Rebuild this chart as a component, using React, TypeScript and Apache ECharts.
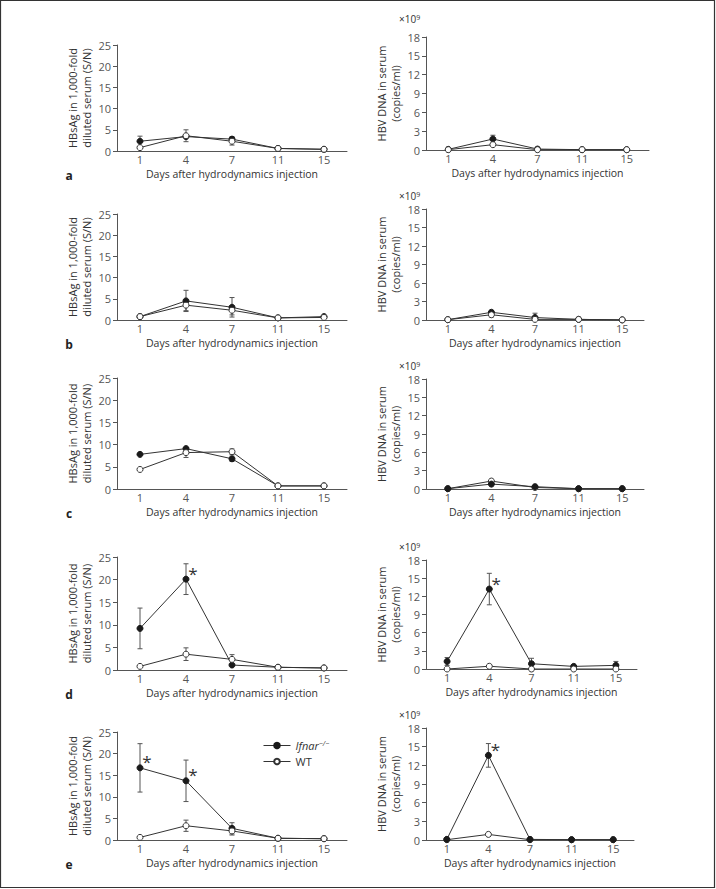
import React, { useEffect, useRef } from 'react';
import * as echarts from 'echarts';

const FONT = '"Open Sans", "Noto Sans", sans-serif';

// Categories (days after injection)
const days = ['1', '4', '7', '11', '15'];

// HBsAg in 1,000-fold diluted serum (S/N)
const hbsIfnarA = [2.3, 3.4, 2.8, 0.6, 0.4];
const hbsIfnarErrA = [1.2, 0, 0.6, 0, 0];
const hbsWtA = [0.8, 3.6, 2.3, 0.6, 0.4];
const hbsWtErrA = [0, 1.4, 0.9, 0, 0];

const hbsIfnarB = [0.8, 4.5, 3.0, 0.5, 0.8];
const hbsIfnarErrB = [0, 2.5, 2.3, 0, 0];
const hbsWtB = [0.8, 3.5, 2.3, 0.5, 0.6];
const hbsWtErrB = [0, 1.3, 1.1, 0, 0];

const hbsIfnarC = [7.8, 9.1, 6.8, 0.7, 0.7];
const hbsIfnarErrC = [0, 0.3, 0.6, 0, 0];
const hbsWtC = [4.4, 8.2, 8.4, 0.7, 0.7];
const hbsWtErrC = [0, 1.1, 0.6, 0, 0];

const hbsIfnarD = [9.2, 20.1, 1.1, 0.6, 0.45];
const hbsIfnarErrD = [4.5, 3.4, 0, 0, 0];
const hbsWtD = [0.8, 3.5, 2.35, 0.6, 0.45];
const hbsWtErrD = [0, 1.4, 1.05, 0, 0];

const hbsIfnarE = [16.7, 13.7, 2.7, 0.4, 0.3];
const hbsIfnarErrE = [5.6, 4.8, 1.3, 0, 0];
const hbsWtE = [0.6, 3.3, 2.1, 0.4, 0.3];
const hbsWtErrE = [0, 1.3, 0.95, 0, 0];

// HBV DNA in serum (copies/ml, x10^9)
const dnaIfnarA = [0.1, 1.75, 0.15, 0.05, 0.05];
const dnaIfnarErrA = [0, 0.6, 0, 0, 0];
const dnaWtA = [0.05, 0.85, 0.05, 0.05, 0.05];
const dnaWtErrA = [0, 0, 0, 0, 0];

const dnaIfnarB = [0.05, 1.25, 0.4, 0.1, 0.02];
const dnaIfnarErrB = [0, 0.2, 0.7, 0, 0];
const dnaWtB = [0.05, 0.85, 0.1, 0.1, 0.02];
const dnaWtErrB = [0, 0.35, 0, 0, 0];

const dnaIfnarC = [0.05, 0.8, 0.38, 0.05, 0.05];
const dnaIfnarErrC = [0, 0, 0, 0, 0];
const dnaWtC = [0.05, 1.3, 0.25, 0.05, 0.05];
const dnaWtErrC = [0, 0, 0, 0, 0];

const dnaIfnarD = [1.25, 13.2, 0.87, 0.43, 0.6];
const dnaIfnarErrD = [0.65, 2.6, 0.9, 0, 0.65];
const dnaWtD = [0, 0.45, 0, 0, 0];
const dnaWtErrD = [0, 0, 0, 0, 0];

const dnaIfnarE = [0.1, 13.6, 0.1, 0.05, 0.05];
const dnaIfnarErrE = [0, 1.9, 0, 0, 0];
const dnaWtE = [0.05, 0.9, 0.05, 0.05, 0.05];
const dnaWtErrE = [0, 0, 0, 0, 0];

// Significance markers (category indices)
const starsHbsD = [1];
const starsHbsE = [0, 1];
const starsDnaD = [1];
const starsDnaE = [1];

const IFNAR = 'Ifnar−/−';
const WT = 'WT';

type Panel = {
  kind: 'hbs' | 'dna';
  left: number; top: number; width: number; height: number; expGap: number;
  ifnar: number[]; ifnarErr: number[]; wt: number[]; wtErr: number[];
  stars: number[]; ifnarOnTop: boolean;
};

const panels: Panel[] = [
  { kind: 'hbs', left: 117, top: 45, width: 230, height: 106, expGap: 0, ifnar: hbsIfnarA, ifnarErr: hbsIfnarErrA, wt: hbsWtA, wtErr: hbsWtErrA, stars: [], ifnarOnTop: false },
  { kind: 'dna', left: 426, top: 37, width: 223, height: 113, expGap: 18, ifnar: dnaIfnarA, ifnarErr: dnaIfnarErrA, wt: dnaWtA, wtErr: dnaWtErrA, stars: [], ifnarOnTop: false },
  { kind: 'hbs', left: 117, top: 214, width: 230, height: 106, expGap: 0, ifnar: hbsIfnarB, ifnarErr: hbsIfnarErrB, wt: hbsWtB, wtErr: hbsWtErrB, stars: [], ifnarOnTop: false },
  { kind: 'dna', left: 426, top: 209, width: 218, height: 111, expGap: 13, ifnar: dnaIfnarB, ifnarErr: dnaIfnarErrB, wt: dnaWtB, wtErr: dnaWtErrB, stars: [], ifnarOnTop: false },
  { kind: 'hbs', left: 117, top: 378, width: 230, height: 111, expGap: 0, ifnar: hbsIfnarC, ifnarErr: hbsIfnarErrC, wt: hbsWtC, wtErr: hbsWtErrC, stars: [], ifnarOnTop: false },
  { kind: 'dna', left: 426, top: 379, width: 218, height: 110, expGap: 13, ifnar: dnaIfnarC, ifnarErr: dnaIfnarErrC, wt: dnaWtC, wtErr: dnaWtErrC, stars: [], ifnarOnTop: true },
  { kind: 'hbs', left: 117, top: 557, width: 230, height: 113, expGap: 0, ifnar: hbsIfnarD, ifnarErr: hbsIfnarErrD, wt: hbsWtD, wtErr: hbsWtErrD, stars: starsHbsD, ifnarOnTop: false },
  { kind: 'dna', left: 426, top: 560, width: 211, height: 109, expGap: 13, ifnar: dnaIfnarD, ifnarErr: dnaIfnarErrD, wt: dnaWtD, wtErr: dnaWtErrD, stars: starsDnaD, ifnarOnTop: false },
  { kind: 'hbs', left: 117, top: 732, width: 230, height: 108, expGap: 0, ifnar: hbsIfnarE, ifnarErr: hbsIfnarErrE, wt: hbsWtE, wtErr: hbsWtErrE, stars: starsHbsE, ifnarOnTop: false },
  { kind: 'dna', left: 426, top: 728, width: 208, height: 112, expGap: 13, ifnar: dnaIfnarE, ifnarErr: dnaIfnarErrE, wt: dnaWtE, wtErr: dnaWtErrE, stars: starsDnaE, ifnarOnTop: true },
];

const letters = ['a', 'b', 'c', 'd', 'e'];

const AXIS = '#555';
const TEXT = '#333';

function buildOption() {
  const grid = panels.map((p) => ({ left: p.left, top: p.top, width: p.width, height: p.height, outerBoundsMode: 'none' }));
  const xAxis = panels.map((p, i) => ({
    type: 'category', gridIndex: i, data: days, boundaryGap: true,
    axisLine: { lineStyle: { color: AXIS, width: 1 } },
    axisTick: { show: false },
    axisLabel: { color: AXIS, fontSize: 11, margin: 3, fontFamily: FONT },
    splitLine: { show: false },
    name: 'Days after hydrodynamics injection', nameLocation: 'middle', nameGap: 17,
    nameTextStyle: { color: TEXT, fontSize: 10.5, fontFamily: FONT },
  }));
  const yAxis = panels.map((p, i) => ({
    type: 'value', gridIndex: i, min: 0,
    max: p.kind === 'hbs' ? 25 : 18, interval: p.kind === 'hbs' ? 5 : 3,
    axisLine: { show: true, lineStyle: { color: AXIS, width: 1 } },
    axisTick: { show: true, length: 4, lineStyle: { color: AXIS, width: 1 } },
    axisLabel: { color: AXIS, fontSize: 11, margin: 6, fontFamily: FONT },
    splitLine: { show: false },
    name: p.kind === 'hbs' ? 'HBsAg in 1,000-fold\ndiluted serum (S/N)' : 'HBV DNA in serum\n(copies/ml)',
    nameLocation: 'middle', nameRotate: 90, nameGap: 24,
    nameTextStyle: { color: TEXT, fontSize: 11, lineHeight: 14, fontFamily: FONT },
  }));

  const series: any[] = [];
  panels.forEach((p, i) => {
    const errData: number[][] = [];
    p.ifnar.forEach((v, k) => { if (p.ifnarErr[k] > 0) errData.push([k, v - p.ifnarErr[k], v + p.ifnarErr[k]]); });
    p.wt.forEach((v, k) => { if (p.wtErr[k] > 0) errData.push([k, v - p.wtErr[k], v + p.wtErr[k]]); });
    series.push({
      type: 'custom', xAxisIndex: i, yAxisIndex: i, z: 1, silent: true,
      encode: { x: 0, y: [1, 2] },
      data: errData,
      renderItem: (params: any, api: any) => {
        const x = api.value(0);
        const lo = api.coord([x, Math.max(0, api.value(1))]);
        const hi = api.coord([x, api.value(2)]);
        const hw = 2.5;
        const style = { stroke: AXIS, lineWidth: 1 };
        return {
          type: 'group',
          children: [
            { type: 'line', shape: { x1: lo[0], y1: lo[1], x2: hi[0], y2: hi[1] }, style },
            { type: 'line', shape: { x1: hi[0] - hw, y1: hi[1], x2: hi[0] + hw, y2: hi[1] }, style },
            { type: 'line', shape: { x1: lo[0] - hw, y1: lo[1], x2: lo[0] + hw, y2: lo[1] }, style },
          ],
        };
      },
    });
    const ifnarSeries = {
      type: 'line', name: IFNAR, xAxisIndex: i, yAxisIndex: i, z: p.ifnarOnTop ? 4 : 2,
      symbol: 'circle', symbolSize: 6,
      itemStyle: { color: '#1a1a1a', borderColor: '#1a1a1a', borderWidth: 1 },
      lineStyle: { color: '#333', width: 1 },
      data: p.ifnar.map((v, k) => p.stars.includes(k)
        ? { value: v, label: { show: true, formatter: '*', position: 'inside', offset: [7, -6], fontSize: 17, color: TEXT, fontFamily: FONT } }
        : v),
    };
    const wtSeries = {
      type: 'line', name: WT, xAxisIndex: i, yAxisIndex: i, z: 3,
      symbol: 'circle', symbolSize: 6,
      itemStyle: { color: '#fff', borderColor: '#333', borderWidth: 1 },
      lineStyle: { color: '#333', width: 1 },
      data: p.wt,
    };
    series.push(ifnarSeries, wtSeries);
  });

  const graphic: any[] = [
    { type: 'rect', shape: { x: 0.5, y: 0.5, width: 714, height: 887 }, style: { fill: 'none', stroke: '#333', lineWidth: 1.2 }, silent: true },
  ];
  letters.forEach((l, r) => {
    const p = panels[r * 2];
    graphic.push({
      type: 'text', x: 69, y: p.top + p.height + 24.5,
      style: { text: l, fill: '#222', fontSize: 12, fontWeight: 'bold', fontFamily: FONT, textAlign: 'center', textVerticalAlign: 'middle' },
    });
    const q = panels[r * 2 + 1];
    graphic.push({
      type: 'text', x: 399, y: q.top - q.expGap,
      style: {
        text: '×10{s|9}', fill: TEXT, fontSize: 10, fontFamily: FONT, textAlign: 'left', textVerticalAlign: 'middle',
        rich: { s: { fontSize: 7, verticalAlign: 'top', fill: TEXT, fontFamily: FONT } },
      },
    });
  });

  return {
    animation: false,
    backgroundColor: '#fff',
    grid, xAxis, yAxis, series, graphic,
    legend: {
      data: [IFNAR, WT], orient: 'vertical', left: 263, top: 740, padding: 0,
      itemWidth: 27, itemHeight: 7, itemGap: 5, selectedMode: false,
      lineStyle: { width: 1 },
      formatter: (n: string) => (n === WT ? 'WT' : '{i|Ifnar}{s|−/−}'),
      textStyle: {
        fontSize: 11, color: TEXT, fontFamily: FONT, fontWeight: 'normal',
        rich: {
          i: { fontStyle: 'italic', fontSize: 11, color: TEXT, fontFamily: FONT, fontWeight: 'normal' },
          s: { fontStyle: 'italic', fontSize: 7, color: TEXT, fontFamily: FONT, fontWeight: 'normal', verticalAlign: 'top' },
        },
      },
    },
  };
}

export default function App() {
  const ref = useRef<HTMLDivElement>(null);
  useEffect(() => {
    if (!ref.current) return;
    const chart = echarts.init(ref.current, undefined, { renderer: 'svg' });
    chart.setOption(buildOption() as any);
    return () => chart.dispose();
  }, []);
  return <div ref={ref} style={{ position: 'absolute', left: 0, top: 0, width: 716, height: 889 }} />;
}
